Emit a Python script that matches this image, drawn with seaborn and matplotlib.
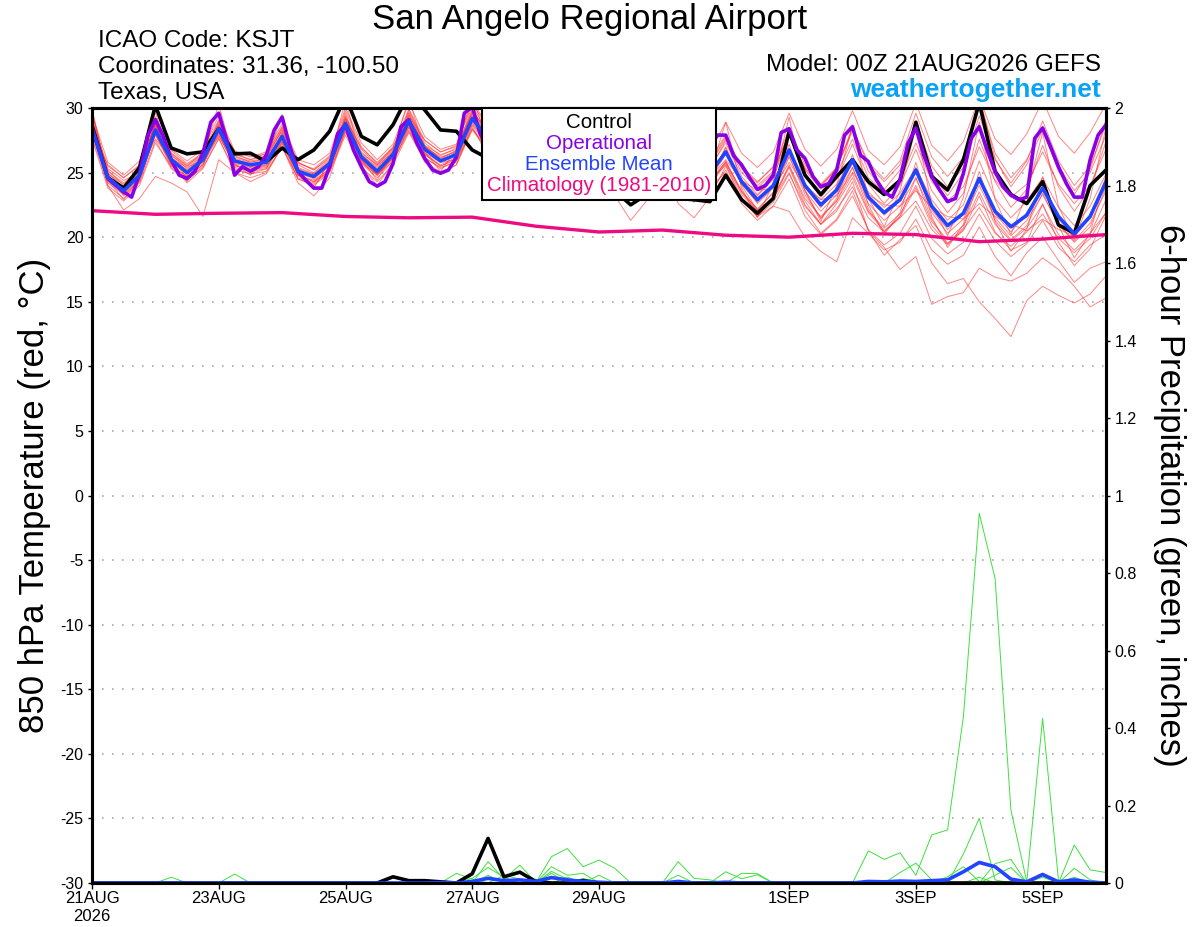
"""GEFS 850 hPa temperature / 6-hour precipitation plume for KSJT."""

import numpy as np
import pandas as pd
import matplotlib
matplotlib.use("Agg")
import matplotlib.pyplot as plt
import seaborn as sns
from matplotlib.offsetbox import AnchoredOffsetbox, TextArea, VPacker

# forecast hours (6-hourly ensemble, 3-hourly operational, daily climatology)
HOURS = list(range(0, 385, 6))
OP_HOURS = list(range(0, 385, 3))
CLIM_HOURS = list(range(0, 385, 24))

XTICK_HOURS = [0, 48, 96, 144, 192, 264, 312, 360]
XTICK_LABELS = ["21AUG\n2026", "23AUG", "25AUG", "27AUG", "29AUG", "1SEP", "3SEP", "5SEP"]

# 850 hPa temperature (C)
CONTROL_T = [28.6, 24.6, 23.8, 25.4, 30.2, 26.9, 26.45, 26.6, 28.4, 26.45,
             26.5, 25.85, 26.9, 26.0, 26.75, 28.2, 30.9, 27.8, 27.15, 28.7,
             31.1, 29.85, 28.3, 28.2, 26.75, 26.1, 24.9, 24.6, 26.0, 24.2,
             23.6, 23.8, 25.2, 23.6, 22.5, 23.3, 24.8, 23.0, 22.9, 22.75,
             24.8, 22.9, 21.85, 23.0, 28.2, 24.8, 23.3, 24.7, 26.0, 24.3,
             23.3, 24.4, 28.9, 24.7, 23.65, 26.0, 30.4, 25.1, 23.3, 22.6,
             24.3, 20.95, 20.3, 24.0, 25.2]

MEAN_T = [28.4, 24.6, 23.6, 24.8, 28.3, 26.0, 25.0, 26.0, 28.4, 25.9,
          25.6, 25.8, 27.8, 25.1, 24.7, 25.7, 28.8, 26.2, 25.1, 26.4,
          29.0, 26.8, 25.9, 26.4, 29.2, 27.6, 26.4, 26.0, 27.9, 26.0,
          25.2, 25.4, 27.4, 25.6, 24.6, 25.2, 27.0, 25.0, 24.0, 24.9,
          26.6, 24.3, 22.9, 24.0, 26.75, 24.0, 22.5, 23.65, 26.0, 23.1,
          21.9, 22.9, 25.2, 22.4, 20.9, 21.85, 24.55, 22.0, 20.8, 21.7,
          23.8, 21.6, 20.25, 21.6, 24.3]

OPER_T = [28.4, 26.5, 24.55, 24.0, 23.5, 23.1, 24.9, 27.8, 29.1, 27.8,
          26.0, 24.8, 24.55, 25.1, 26.5, 28.9, 29.6, 27.5, 24.8, 25.45,
          25.1, 25.45, 26.35, 28.3, 29.3, 27.0, 25.1, 24.4, 23.8, 23.8,
          25.45, 28.0, 28.7, 26.75, 25.45, 24.3, 23.95, 24.3, 25.7, 28.55,
          29.1, 27.3, 26.1, 25.2, 24.95, 25.2, 26.2, 29.6, 30.1, 28.0,
          26.8, 26.0, 25.5, 26.0, 27.5, 28.8, 29.2, 27.6, 26.3, 25.6,
          25.2, 25.6, 27.0, 28.4, 28.8, 27.3, 26.0, 25.3, 24.8, 25.2,
          26.5, 28.0, 28.4, 27.0, 25.8, 25.0, 24.7, 25.5, 27.2, 27.9,
          27.9, 26.3, 25.6, 24.6, 23.7, 24.0, 24.8, 28.1, 28.4, 26.75,
          26.1, 24.7, 23.9, 24.15, 25.2, 27.9, 28.55, 26.35, 25.85, 24.45,
          23.5, 23.1, 24.45, 27.25, 28.45, 26.35, 24.7, 23.65, 22.75, 23.0,
          24.95, 27.65, 28.55, 26.75, 25.05, 23.9, 23.25, 22.9, 23.1, 27.65,
          28.45, 27.0, 25.45, 24.15, 23.1, 23.1, 26.0, 27.9, 28.7]

CLIM_T = [22.05, 21.77, 21.85, 21.9, 21.6, 21.5, 21.55, 20.85, 20.4, 20.55,
          20.15, 20.0, 20.3, 20.2, 19.65, 19.85, 20.2]

MEMBERS_T = [
    [29.2, 25.2, 24.0, 25.3, 28.9, 26.4, 25.3, 26.3, 28.9, 26.2, 25.9, 26.1, 28.3, 25.6, 25.0, 26.0,
     29.4, 26.8, 25.6, 26.9, 29.7, 27.3, 26.3, 26.9, 29.8, 28.1, 26.9, 26.6, 28.6, 26.6, 25.8, 26.0,
     28.2, 26.3, 25.3, 25.9, 27.9, 25.8, 24.9, 25.7, 27.8, 25.3, 24.0, 25.1, 28.1, 25.2, 23.7, 24.9,
     27.6, 24.6, 23.5, 24.5, 27.3, 24.3, 22.8, 23.9, 27.0, 24.4, 23.1, 24.1, 26.6, 24.1, 22.6, 24.0, 26.8],
    [27.8, 24.0, 23.0, 24.2, 27.5, 25.3, 24.4, 25.4, 27.6, 25.2, 24.9, 25.1, 27.0, 24.5, 24.0, 25.0,
     27.9, 25.4, 24.3, 25.6, 28.1, 25.9, 25.0, 25.6, 28.3, 26.7, 25.6, 25.3, 27.0, 25.1, 24.4, 24.7,
     26.3, 24.6, 23.6, 24.3, 25.6, 23.8, 22.9, 23.9, 25.0, 22.9, 21.6, 22.7, 24.9, 22.4, 21.0, 22.2,
     23.9, 21.5, 20.4, 21.5, 22.8, 20.6, 19.4, 20.6, 22.3, 20.3, 19.3, 20.4, 21.8, 19.9, 18.8, 19.9, 21.9],
    [29.8, 24.4, 22.9, 24.6, 29.7, 25.8, 24.3, 26.2, 30.3, 25.7, 24.8, 26.0, 29.5, 24.8, 23.8, 25.9,
     30.6, 26.0, 24.4, 26.6, 30.8, 26.6, 25.1, 26.8, 30.9, 27.3, 25.6, 26.4, 29.6, 25.6, 24.3, 25.6,
     29.4, 25.1, 23.4, 25.4, 29.0, 24.3, 22.7, 25.0, 28.9, 23.8, 21.5, 24.2, 29.3, 23.6, 21.2, 24.0,
     28.7, 23.0, 20.8, 23.6, 28.5, 22.5, 20.1, 23.1, 28.9, 22.9, 20.2, 23.4, 28.1, 22.4, 19.8, 23.0, 28.5],
    [28.0, 24.9, 24.1, 25.1, 27.6, 26.1, 25.4, 26.0, 27.8, 25.7, 25.4, 25.6, 27.2, 25.0, 24.8, 25.5,
     28.3, 26.0, 25.2, 26.1, 28.5, 26.5, 25.8, 26.0, 28.7, 27.0, 26.0, 25.7, 27.4, 25.8, 25.1, 25.1,
     26.9, 25.2, 24.3, 24.6, 26.4, 24.5, 23.5, 24.2, 25.8, 23.6, 22.1, 23.0, 25.0, 22.1, 20.3, 21.4,
     23.6, 20.5, 18.6, 19.8, 20.9, 18.0, 16.4, 16.8, 15.0, 13.7, 12.3, 15.1, 16.2, 15.5, 14.9, 15.6, 17.0],
    [28.5, 24.2, 23.3, 24.5, 28.0, 25.7, 24.7, 25.6, 28.2, 25.5, 25.3, 25.5, 27.5, 24.8, 24.3, 25.3,
     28.6, 25.8, 24.8, 26.1, 28.8, 26.5, 25.5, 26.1, 28.9, 27.2, 26.0, 25.7, 27.6, 25.7, 24.9, 25.1,
     27.0, 25.2, 24.2, 24.8, 26.5, 24.5, 23.4, 24.4, 25.8, 23.5, 22.0, 23.0, 25.5, 22.8, 21.0, 22.0,
     24.3, 20.5, 19.2, 17.5, 18.5, 14.8, 15.4, 15.7, 17.6, 16.9, 16.6, 17.2, 18.4, 17.5, 16.2, 14.6, 15.3],
    [28.9, 25.5, 24.6, 25.6, 28.6, 26.5, 25.6, 26.4, 28.7, 26.3, 25.8, 26.0, 28.0, 25.3, 24.9, 25.9,
     29.0, 26.4, 25.3, 26.6, 29.3, 27.0, 26.1, 26.7, 29.5, 27.9, 26.7, 26.3, 28.1, 26.2, 25.5, 25.6,
     27.5, 25.6, 24.6, 25.0, 26.7, 24.7, 23.5, 24.3, 25.6, 23.0, 21.6, 22.4, 22.0, 20.0, 18.9, 18.1,
     21.5, 20.3, 19.0, 19.6, 21.4, 19.0, 17.9, 18.6, 20.8, 18.5, 17.0, 18.8, 20.0, 18.2, 16.5, 17.6, 18.1],
    [29.5, 25.8, 24.8, 25.9, 29.3, 26.8, 25.9, 26.8, 29.4, 26.7, 26.2, 26.6, 28.8, 26.0, 25.6, 26.5,
     30.0, 27.3, 26.0, 27.2, 30.4, 27.8, 26.8, 27.2, 30.5, 28.6, 27.3, 26.9, 29.2, 27.1, 26.3, 26.5,
     28.9, 26.9, 26.0, 26.6, 28.8, 26.7, 25.8, 26.6, 28.9, 26.5, 25.4, 26.6, 29.6, 26.8, 25.5, 26.8,
     29.8, 26.7, 25.6, 27.0, 30.4, 27.1, 25.9, 27.4, 30.8, 27.6, 26.4, 28.0, 30.6, 27.8, 26.5, 28.1, 30.3],
    [28.2, 24.4, 23.4, 24.6, 27.9, 25.8, 24.9, 25.7, 28.1, 25.6, 25.2, 25.4, 27.4, 24.8, 24.4, 25.3,
     28.5, 25.9, 24.9, 26.1, 28.6, 26.4, 25.5, 26.0, 28.8, 27.2, 26.1, 25.8, 27.5, 25.6, 24.8, 25.0,
     26.9, 25.1, 24.1, 24.6, 26.3, 24.3, 23.2, 24.0, 25.7, 23.3, 22.0, 23.1, 25.6, 23.0, 21.6, 22.8,
     24.9, 22.0, 20.7, 21.8, 24.0, 21.2, 19.8, 20.9, 23.5, 21.0, 19.7, 20.7, 22.5, 20.2, 19.0, 20.2, 22.9],
    [28.8, 24.0, 22.1, 23.0, 24.7, 24.2, 23.5, 21.6, 26.0, 25.0, 24.6, 25.0, 27.0, 24.6, 24.2, 25.2,
     28.2, 25.7, 24.6, 25.9, 28.3, 26.2, 25.3, 25.9, 28.4, 26.9, 25.8, 25.4, 27.1, 25.3, 24.5, 24.7,
     26.6, 24.8, 23.8, 24.4, 26.2, 24.3, 23.2, 24.1, 25.9, 23.5, 22.2, 23.4, 26.2, 23.6, 22.0, 23.3,
     25.4, 22.6, 21.3, 22.4, 24.6, 21.9, 20.3, 21.4, 24.0, 21.5, 20.1, 21.3, 23.3, 21.0, 19.7, 21.1, 23.6],
    [29.6, 25.0, 23.8, 25.4, 28.8, 26.2, 25.2, 26.2, 29.0, 26.4, 26.0, 26.3, 28.6, 25.3, 24.6, 25.6,
     29.6, 26.2, 24.8, 26.2, 29.9, 27.1, 26.0, 26.5, 30.2, 28.0, 26.6, 26.3, 28.5, 26.4, 25.6, 25.9,
     27.8, 25.9, 24.9, 25.6, 27.7, 25.4, 24.3, 25.4, 27.3, 24.7, 23.3, 24.6, 27.9, 24.8, 23.1, 24.5,
     27.2, 24.1, 22.6, 24.0, 26.8, 23.6, 21.9, 23.4, 27.6, 24.3, 22.3, 23.7, 27.1, 23.9, 22.0, 23.8, 27.4],
    [28.1, 25.6, 24.6, 25.5, 28.6, 26.7, 25.7, 26.5, 28.2, 26.0, 25.7, 25.7, 27.7, 25.4, 24.9, 25.8,
     28.7, 26.5, 25.6, 26.8, 29.1, 27.0, 26.2, 26.6, 29.0, 27.5, 26.8, 26.2, 27.6, 26.2, 25.6, 25.2,
     27.1, 25.7, 24.8, 24.9, 26.8, 25.2, 24.3, 24.6, 26.0, 24.4, 23.6, 23.8, 25.8, 23.9, 22.9, 23.2,
     25.0, 23.3, 22.5, 22.4, 23.6, 22.3, 21.6, 21.4, 22.6, 21.6, 21.0, 20.5, 21.4, 20.6, 20.1, 20.3, 21.9],
    [29.9, 24.7, 23.2, 24.3, 28.0, 25.4, 24.4, 25.5, 28.6, 25.3, 24.9, 25.3, 27.4, 24.5, 24.1, 25.1,
     29.2, 26.0, 24.9, 26.4, 29.6, 26.9, 25.9, 26.3, 29.9, 27.9, 26.5, 26.5, 28.4, 26.1, 24.8, 25.2,
     28.1, 25.7, 24.1, 25.1, 27.5, 24.9, 23.3, 24.4, 27.0, 24.0, 22.1, 23.5, 27.2, 23.6, 21.4, 23.0,
     26.4, 22.5, 20.2, 21.9, 25.8, 21.6, 19.2, 21.0, 25.1, 21.2, 18.9, 20.6, 24.7, 20.9, 18.4, 20.3, 24.8],
    [28.3, 24.5, 23.8, 24.9, 28.1, 26.3, 25.5, 26.3, 28.6, 26.6, 26.3, 26.4, 28.2, 25.7, 25.3, 26.3,
     29.1, 26.9, 25.8, 26.9, 29.4, 27.5, 26.6, 27.0, 29.3, 27.8, 26.5, 26.3, 27.9, 26.0, 25.0, 25.3,
     27.4, 25.4, 24.3, 25.0, 27.1, 24.9, 23.6, 24.6, 26.9, 24.2, 22.6, 23.8, 26.3, 23.3, 21.5, 22.8,
     25.4, 22.2, 20.4, 21.6, 24.6, 21.4, 19.5, 20.5, 23.2, 20.4, 19.0, 19.6, 22.6, 19.6, 17.8, 19.1, 21.7],
    [28.6, 24.3, 23.5, 24.7, 28.4, 25.9, 24.8, 26.0, 28.0, 25.4, 25.1, 25.6, 27.9, 25.2, 24.7, 25.8,
     28.9, 26.1, 24.9, 26.3, 28.7, 26.4, 25.6, 26.2, 29.1, 27.4, 26.2, 25.8, 28.0, 26.0, 25.3, 25.6,
     27.7, 25.8, 24.9, 25.5, 27.6, 25.4, 24.5, 25.3, 27.5, 25.0, 23.8, 25.0, 28.0, 25.3, 23.9, 25.3,
     28.5, 25.6, 24.3, 25.6, 28.9, 25.5, 23.9, 25.4, 29.4, 26.0, 24.2, 25.9, 29.0, 25.9, 24.0, 25.5, 28.7],
    [28.7, 25.3, 24.4, 25.0, 28.5, 26.1, 25.1, 25.8, 28.3, 25.8, 25.5, 25.9, 27.9, 25.0, 24.5, 25.5,
     28.8, 26.4, 25.4, 26.7, 29.2, 27.1, 26.4, 26.8, 29.6, 28.3, 27.0, 26.4, 28.2, 26.3, 25.4, 25.8,
     27.6, 25.5, 24.4, 25.3, 27.3, 25.1, 24.0, 25.1, 26.7, 24.4, 23.2, 24.5, 26.5, 24.1, 22.9, 24.1,
     26.1, 23.5, 22.3, 23.4, 25.4, 22.9, 21.3, 22.5, 25.9, 23.0, 21.5, 22.8, 24.6, 22.3, 20.9, 22.4, 24.9],
    [29.3, 24.8, 23.7, 25.0, 28.7, 26.0, 25.0, 26.1, 28.8, 25.9, 25.4, 25.9, 28.1, 25.1, 24.6, 25.8,
     29.2, 26.3, 25.1, 26.5, 29.5, 27.0, 26.1, 26.7, 29.7, 27.8, 26.6, 26.2, 28.3, 26.3, 25.4, 25.7,
     27.9, 26.0, 25.0, 25.8, 27.8, 25.8, 24.6, 25.7, 27.6, 25.5, 24.3, 25.4, 27.8, 25.4, 24.0, 25.3,
     28.4, 25.8, 24.5, 25.9, 29.6, 26.2, 24.7, 26.2, 30.6, 26.5, 24.6, 26.0, 28.6, 25.5, 23.6, 25.0, 27.9],
    [27.6, 23.8, 22.8, 24.0, 27.3, 25.5, 24.7, 25.6, 27.9, 25.6, 25.1, 25.3, 27.3, 24.8, 24.3, 25.1,
     28.1, 25.8, 24.8, 25.9, 28.2, 26.1, 25.4, 25.8, 28.4, 26.7, 25.8, 25.4, 27.2, 25.4, 24.7, 24.8,
     26.7, 24.7, 23.7, 24.3, 26.0, 23.9, 22.8, 23.5, 25.2, 22.6, 21.3, 22.4, 24.5, 21.6, 20.2, 21.3,
     23.2, 20.6, 19.4, 20.3, 22.4, 19.9, 18.7, 19.6, 21.8, 19.7, 18.5, 19.5, 21.3, 19.2, 18.1, 19.4, 20.2],
    [29.0, 25.1, 24.2, 25.2, 28.2, 25.6, 24.6, 25.9, 28.5, 26.1, 25.8, 26.1, 28.4, 25.8, 25.2, 26.1,
     29.3, 26.6, 25.5, 26.6, 29.2, 26.9, 25.9, 26.4, 29.4, 27.7, 26.4, 26.1, 28.0, 26.1, 25.3, 25.5,
     27.3, 25.3, 24.3, 24.9, 26.9, 24.7, 23.5, 24.5, 26.4, 24.1, 22.7, 24.1, 26.6, 23.9, 22.3, 23.7,
     25.7, 23.1, 21.7, 22.8, 25.1, 22.1, 20.6, 21.8, 24.3, 21.8, 20.4, 21.9, 23.9, 21.4, 20.0, 21.6, 24.0],
    [28.4, 24.6, 23.3, 24.4, 28.0, 25.6, 24.2, 25.3, 27.7, 25.0, 24.3, 24.9, 27.0, 24.2, 23.2, 24.6,
     28.4, 25.5, 24.0, 25.8, 28.5, 25.8, 24.9, 25.6, 28.6, 26.2, 24.8, 24.6, 26.6, 24.1, 23.1, 23.8,
     26.0, 23.2, 21.3, 22.8, 25.4, 22.6, 21.5, 23.1, 25.5, 22.9, 21.6, 23.0, 25.4, 22.5, 21.0, 22.6,
     24.6, 21.9, 20.5, 21.6, 23.8, 20.9, 19.5, 20.7, 24.6, 21.3, 19.8, 20.9, 23.4, 21.0, 19.6, 20.8, 23.9],
    [28.9, 24.9, 23.9, 25.4, 28.8, 26.5, 25.5, 26.6, 29.1, 26.5, 26.0, 26.5, 28.5, 25.8, 25.2, 26.2,
     29.8, 27.0, 25.7, 27.0, 29.9, 27.5, 26.6, 27.1, 30.3, 28.5, 27.2, 26.8, 28.9, 26.8, 25.9, 26.2,
     28.5, 26.3, 25.4, 26.1, 28.3, 26.0, 25.0, 26.0, 27.9, 25.4, 24.2, 25.5, 28.3, 25.6, 24.1, 25.4,
     28.2, 25.1, 23.7, 25.2, 28.7, 25.0, 23.2, 25.0, 30.9, 26.1, 23.9, 25.6, 28.3, 25.1, 23.3, 25.2, 29.1],
]

# 6-hour precipitation (in), nonzero values keyed by step index
CONTROL_P = {19: 0.016, 20: 0.006, 21: 0.006, 22: 0.003, 24: 0.024, 25: 0.115,
             26: 0.016, 27: 0.028, 28: 0.004, 31: 0.006}
MEAN_P = {22: 0.001, 24: 0.004, 25: 0.012, 26: 0.006, 27: 0.008, 28: 0.004, 29: 0.014,
          30: 0.008, 31: 0.004, 32: 0.002, 37: 0.004, 40: 0.002, 49: 0.004, 50: 0.003,
          51: 0.005, 52: 0.004, 53: 0.006, 54: 0.008, 55: 0.029, 56: 0.053, 57: 0.042,
          58: 0.010, 59: 0.003, 60: 0.022, 61: 0.003, 62: 0.008, 63: 0.002}
MEMBERS_P = [
    {49: 0.083, 50: 0.061, 51: 0.078, 52: 0.020, 53: 0.124, 54: 0.137, 55: 0.429,
     56: 0.954, 57: 0.786, 58: 0.188, 59: 0.003, 60: 0.425, 61: 0.008},
    {5: 0.015, 29: 0.068, 30: 0.089, 31: 0.042, 32: 0.059, 33: 0.038},
    {9: 0.023, 25: 0.055, 26: 0.010, 27: 0.046, 28: 0.003, 51: 0.027, 52: 0.051, 53: 0.008},
    {23: 0.025, 24: 0.010, 29: 0.042, 30: 0.020, 31: 0.025, 55: 0.075, 56: 0.167, 57: 0.008},
    {37: 0.055, 38: 0.012, 39: 0.008, 57: 0.050, 58: 0.061},
    {40: 0.029, 41: 0.011, 42: 0.021, 60: 0.020, 62: 0.098, 63: 0.034, 64: 0.027},
    {26: 0.020, 27: 0.010, 29: 0.030, 30: 0.010, 41: 0.025, 42: 0.024, 62: 0.038, 63: 0.008},
    {24: 0.012, 25: 0.040, 26: 0.015, 30: 0.015, 32: 0.020, 54: 0.016, 55: 0.042, 56: 0.004},
    {29: 0.025, 31: 0.012, 37: 0.020, 53: 0.006, 56: 0.015, 60: 0.025},
    {25: 0.020, 28: 0.010, 37: 0.006, 57: 0.020, 58: 0.040, 60: 0.015, 62: 0.015},
    {}, {}, {}, {}, {}, {}, {}, {}, {}, {},
]

LEGEND = [("Control", "black"), ("Operational", "#8a00e6"),
          ("Ensemble Mean", "#2244ff"), ("Climatology (1981-2010)", "#ee0a80")]

RED = "#ff3535"
GREEN = "#3ee03e"
PURPLE = "#8a00e6"
BLUE = "#2244ff"
MAGENTA = "#ee0a80"
FONT = ["Liberation Sans", "DejaVu Sans"]


def full_series(sparse):
    return [sparse.get(i, 0.0) for i in range(len(HOURS))]


def main():
    sns.set_theme(style="white")
    plt.rcParams["font.family"] = FONT
    for key in ("text.color", "axes.labelcolor", "xtick.color", "ytick.color"):
        plt.rcParams[key] = "black"

    temp_df = pd.DataFrame([
        {"member": m, "hour": h, "temp": t}
        for m, series in enumerate(MEMBERS_T) for h, t in zip(HOURS, series)
    ])
    prcp_df = pd.DataFrame([
        {"member": m, "hour": h, "prcp": p}
        for m, sparse in enumerate(MEMBERS_P) for h, p in zip(HOURS, full_series(sparse))
    ])

    fig = plt.figure(figsize=(12, 9.27), dpi=100)
    ax = fig.add_axes([92 / 1200, 1 - 883 / 927, 1014 / 1200, 775 / 927])
    ax2 = ax.twinx()

    # temperature plume
    sns.lineplot(data=temp_df, x="hour", y="temp", units="member", estimator=None,
                 color=RED, lw=0.7, alpha=0.6, ax=ax, legend=False)
    sns.lineplot(x=HOURS, y=CONTROL_T, color="black", lw=2.6, ax=ax)
    sns.lineplot(x=OP_HOURS, y=OPER_T, color=PURPLE, lw=2.6, ax=ax)
    sns.lineplot(x=HOURS, y=MEAN_T, color=BLUE, lw=2.6, ax=ax)
    sns.lineplot(x=CLIM_HOURS, y=CLIM_T, color=MAGENTA, lw=2.4, ax=ax)

    # precipitation plume
    sns.lineplot(data=prcp_df, x="hour", y="prcp", units="member", estimator=None,
                 color=GREEN, lw=0.7, ax=ax2, legend=False)
    sns.lineplot(x=HOURS, y=full_series(CONTROL_P), color="black", lw=2.6, ax=ax2)
    sns.lineplot(x=HOURS, y=full_series(MEAN_P), color=BLUE, lw=2.6, ax=ax2)

    ax.set_xlim(0, 384)
    ax.set_ylim(-30, 30)
    ax2.set_ylim(0, 2)

    ax.set_yticks(np.arange(-30, 31, 5))
    ax.set_yticklabels([str(v) for v in range(-30, 31, 5)])
    ax2.set_yticks(np.arange(0, 2.01, 0.2))
    ax2.set_yticklabels([f"{v:g}" for v in np.round(np.arange(0, 2.01, 0.2), 1)])
    ax.set_xticks(XTICK_HOURS)
    ax.set_xticklabels(XTICK_LABELS)

    ax.yaxis.grid(True, linestyle=(0, (1, 5)), color="#aaaaaa", lw=1.2)
    ax.xaxis.grid(False)
    ax2.grid(False)

    for a in (ax, ax2):
        for sp in a.spines.values():
            sp.set_linewidth(2.2)
            sp.set_color("black")
        a.set_xlabel("")
    ax.tick_params(axis="y", direction="out", length=3, width=1, labelsize=11.5, pad=3, left=True)
    ax.tick_params(axis="x", direction="out", length=4, width=1, labelsize=12, pad=2, bottom=True)
    ax2.tick_params(axis="y", direction="out", length=3, width=1, labelsize=11.5, pad=3, right=True)

    ax.set_ylabel("850 hPa Temperature (red, °C)", fontsize=25, va="center")
    ax.yaxis.set_label_coords(-0.057, 0.5)
    ax2.set_ylabel("6-hour Precipitation (green, inches)", fontsize=25,
                   rotation=270, va="center")
    ax2.yaxis.set_label_coords(1.063, 0.5)

    # legend box with centred, coloured entries
    boxes = [TextArea(t, textprops=dict(color=c, fontsize=14.8, family=FONT)) for t, c in LEGEND]
    pack = VPacker(children=boxes, align="center", pad=0, sep=1.6)
    anch = AnchoredOffsetbox(loc="upper center", child=pack, pad=0.3, frameon=True,
                             bbox_to_anchor=(0.5, 1.0), bbox_transform=ax2.transAxes,
                             borderpad=0)
    anch.patch.set_boxstyle("square", pad=0)
    anch.patch.set_edgecolor("black")
    anch.patch.set_linewidth(1.5)
    ax2.add_artist(anch)

    # header text
    fig.text(590 / 1200, 1 - 19 / 927, "San Angelo Regional Airport", fontsize=25,
             ha="center", va="center")
    fig.text(98 / 1200, 1 - 41 / 927, "ICAO Code: KSJT", fontsize=17.5, ha="left", va="center")
    fig.text(98 / 1200, 1 - 67 / 927, "Coordinates: 31.36, -100.50", fontsize=17.5,
             ha="left", va="center")
    fig.text(98 / 1200, 1 - 93 / 927, "Texas, USA", fontsize=17.5, ha="left", va="center")
    fig.text(1101 / 1200, 1 - 65 / 927, "Model: 00Z 21AUG2026 GEFS", fontsize=17.5,
             ha="right", va="center")
    fig.text(1101 / 1200, 1 - 90 / 927, "weathertogether.net", fontsize=19,
             fontweight="bold", color="#0aa2f5", ha="right", va="center")

    fig.savefig("out.png", dpi=100)
    plt.close(fig)


if __name__ == "__main__":
    main()
